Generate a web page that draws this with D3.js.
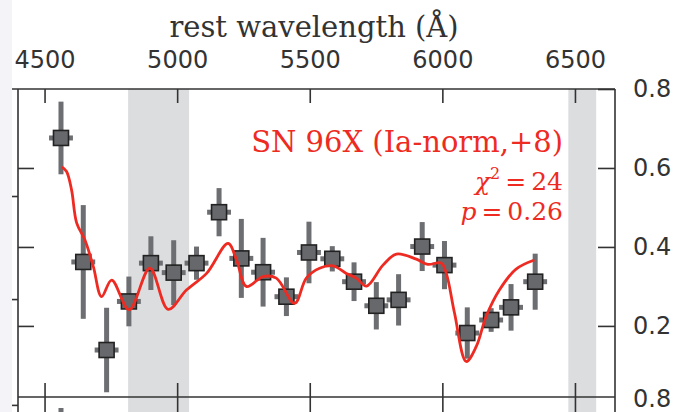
<!DOCTYPE html>
<html>
<head>
<meta charset="utf-8">
<script src="https://cdn.jsdelivr.net/npm/d3@7"></script>
<style>
  body { margin: 0; background: #fff; }
  svg { display: block; }
</style>
</head>
<body>
<script>
// binned spectrum points (rest wavelength, flux, 1-sigma error)
const wave = [4562, 4646, 4734, 4818, 4901, 4987, 5073, 5158, 5242, 5324, 5412,
              5497, 5585, 5667, 5751, 5835, 5924, 6008, 6094, 6184, 6259, 6350];
const flux = [0.676, 0.362, 0.139, 0.262, 0.359, 0.335, 0.359, 0.488, 0.371, 0.336, 0.274,
              0.386, 0.370, 0.312, 0.251, 0.266, 0.401, 0.354, 0.182, 0.215, 0.247, 0.312];
const fluxErr = [0.092, 0.144, 0.107, 0.063, 0.068, 0.082, 0.042, 0.061, 0.100, 0.087, 0.049,
                 0.078, 0.032, 0.049, 0.060, 0.065, 0.062, 0.061, 0.065, 0.030, 0.059, 0.071];
const binHalf = 45;

// template fit (SN 96X)
const modelWave = [4565, 4583, 4602, 4621, 4652, 4684, 4715, 4753, 4819, 4897, 4966, 5035,
                   5111, 5192, 5224, 5261, 5324, 5374, 5443, 5487, 5537, 5588, 5638, 5676,
                   5714, 5776, 5827, 5902, 5945, 5996, 6015, 6046, 6090, 6128, 6165, 6215,
                   6278, 6347];
const modelFlux = [0.603, 0.591, 0.544, 0.461, 0.418, 0.350, 0.274, 0.316, 0.241, 0.346, 0.242, 0.291,
                   0.333, 0.409, 0.367, 0.300, 0.325, 0.321, 0.257, 0.321, 0.346, 0.352, 0.333, 0.321,
                   0.301, 0.354, 0.382, 0.369, 0.356, 0.359, 0.333, 0.232, 0.110, 0.148, 0.224, 0.291,
                   0.344, 0.367];

// masked regions
const bandStart = [4815, 6475];
const bandEnd = [5045, 6580];

const xTicks = [4500, 5000, 5500, 6000, 6500];
const yTicks = [0.2, 0.4, 0.6, 0.8];
const neighbourTicks = [0.529, 0.268, 0.0];   // ticks of the panel to the left

const width = 677, height = 412;
const padL = 18, padR = 615, padT = 89, padB = 397;
const red = "#ee2b22";
const ink = "#333";

const svg = d3.select("body").append("svg")
    .attr("width", width)
    .attr("height", height);

const x = d3.scaleLinear().domain([4398, 6651]).range([padL - 0.5, padR]);
const y = d3.scaleLinear().domain([0.02, 0.8]).range([padB, padT]);

// grey bands
svg.selectAll("rect.band")
    .data(bandStart)
    .enter()
    .append("rect")
    .attr("class", "band")
    .attr("x", (d) => x(d))
    .attr("y", padT)
    .attr("width", (d, i) => x(bandEnd[i]) - x(d))
    .attr("height", height - padT)
    .attr("fill", "#dcdddf");

// frame
const frame = svg.append("g").attr("stroke", ink).attr("stroke-width", 1.6).attr("fill", "none");
frame.append("line").attr("x1", 12).attr("x2", padR).attr("y1", padT).attr("y2", padT);
frame.append("line").attr("x1", padL).attr("x2", padL).attr("y1", padT).attr("y2", height);
frame.append("line").attr("x1", padR).attr("x2", padR).attr("y1", padT).attr("y2", height);
frame.append("line").attr("x1", padL).attr("x2", padR).attr("y1", padB).attr("y2", padB);

const styleAxis = (g) => {
    g.select(".domain").remove();
    g.selectAll(".tick line").attr("stroke", ink).attr("stroke-width", 1.6);
    g.selectAll(".tick text")
        .attr("fill", ink)
        .style("font-family", "DejaVu Sans, sans-serif")
        .style("font-size", "24px");
};

svg.append("g")
    .attr("transform", "translate(0," + padT + ")")
    .call(d3.axisTop(x).tickValues(xTicks).tickSizeInner(-14).tickSizeOuter(0).tickPadding(21)
        .tickFormat(d3.format("d")))
    .call(styleAxis);

svg.append("g")
    .attr("transform", "translate(0," + padB + ")")
    .call(d3.axisBottom(x).tickValues(xTicks).tickSizeInner(-14).tickSizeOuter(0).tickFormat(""))
    .call(styleAxis);

svg.append("g")
    .attr("transform", "translate(0," + padB + ")")
    .call(d3.axisTop(x).tickValues(xTicks).tickSizeInner(-16).tickSizeOuter(0).tickFormat(""))
    .call(styleAxis);

svg.append("g")
    .attr("transform", "translate(" + padR + ",0)")
    .call(d3.axisRight(y).tickValues(yTicks).tickSizeInner(-17).tickSizeOuter(0).tickPadding(18)
        .tickFormat(d3.format(".1f")))
    .call(styleAxis);

// top label of the panel below
svg.append("g")
    .attr("transform", "translate(" + padR + "," + (padB - padT + 2) + ")")
    .call(d3.axisRight(y).tickValues([0.8]).tickSize(0).tickPadding(18).tickFormat(d3.format(".1f")))
    .call(styleAxis);

svg.append("g")
    .attr("transform", "translate(" + padL + ",0)")
    .call(d3.axisLeft(y).tickValues([0.2, 0.4, 0.6]).tickSizeInner(-16).tickSizeOuter(0).tickFormat(""))
    .call(styleAxis);

svg.append("g")
    .attr("transform", "translate(" + padL + ",0)")
    .call(d3.axisLeft(y).tickValues(neighbourTicks).tickSizeInner(6).tickSizeOuter(0).tickFormat(""))
    .call(styleAxis);

// light strip at the left edge, drawn over the first tick label like the cropped original
svg.append("rect").attr("x", 0).attr("y", 0).attr("width", 12).attr("height", height)
    .attr("fill", "#f3f3f8");

// axis title
svg.append("text")
    .attr("x", 314)
    .attr("y", 37)
    .attr("text-anchor", "middle")
    .attr("fill", ink)
    .style("font-family", "DejaVu Serif, serif")
    .style("font-size", "29px")
    .text("rest wavelength (Å)");

// error bars
const pts = wave.map((w, i) => ({ w: w, f: flux[i], e: fluxErr[i] }));

svg.selectAll("rect.err")
    .data(pts)
    .enter()
    .append("rect")
    .attr("class", "err")
    .attr("x", (d) => x(d.w) - 2.5)
    .attr("y", (d) => y(d.f + d.e))
    .attr("width", 5)
    .attr("height", (d) => y(d.f - d.e) - y(d.f + d.e))
    .attr("fill", "#6d6e71");

svg.selectAll("rect.bin")
    .data(pts)
    .enter()
    .append("rect")
    .attr("class", "bin")
    .attr("x", (d) => x(d.w - binHalf))
    .attr("y", (d) => y(d.f) - 2.5)
    .attr("width", (d) => x(d.w + binHalf) - x(d.w - binHalf))
    .attr("height", 5)
    .attr("fill", "#6d6e71");

svg.selectAll("rect.pt")
    .data(pts)
    .enter()
    .append("rect")
    .attr("class", "pt")
    .attr("x", (d) => x(d.w) - 7.5)
    .attr("y", (d) => y(d.f) - 7.5)
    .attr("width", 15)
    .attr("height", 15)
    .attr("fill", "#67686c")
    .attr("stroke", "#222")
    .attr("stroke-width", 1.6);

// first error bar of the panel below, just peeking in
svg.append("rect")
    .attr("x", x(wave[0]) - 2.5)
    .attr("y", padB + 11)
    .attr("width", 5)
    .attr("height", height - padB - 11)
    .attr("fill", "#6d6e71");

// model
const line = d3.line()
    .x((d, i) => x(modelWave[i]))
    .y((d) => y(d))
    .curve(d3.curveCatmullRom.alpha(0.5));

svg.append("path")
    .datum(modelFlux)
    .attr("d", line)
    .attr("fill", "none")
    .attr("stroke", red)
    .attr("stroke-width", 2.8)
    .attr("stroke-linejoin", "round");

// labels
const lab = svg.append("g")
    .attr("fill", red)
    .attr("text-anchor", "end")
    .style("font-family", "DejaVu Serif, serif");

lab.append("text")
    .attr("x", 563).attr("y", 152)
    .style("font-size", "29px")
    .text("SN 96X (Ia-norm,+8)");

const chi = lab.append("text")
    .attr("x", 563).attr("y", 190)
    .style("font-size", "25px");
chi.append("tspan").style("font-style", "italic").text("χ");
chi.append("tspan").attr("dy", -11).style("font-size", "16px").text("2");
chi.append("tspan").attr("dy", 11).text("\u2009=\u200924");

const pv = lab.append("text")
    .attr("x", 563).attr("y", 220)
    .style("font-size", "25px");
pv.append("tspan").style("font-style", "italic").text("p");
pv.append("tspan").text("\u2009=\u20090.26");
</script>
</body>
</html>
